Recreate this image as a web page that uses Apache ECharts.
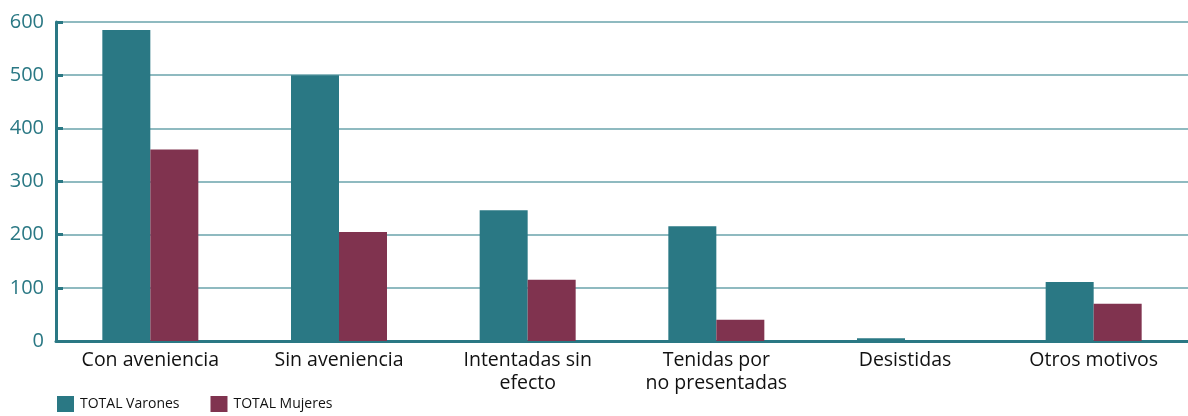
<!DOCTYPE html>
<html><head><meta charset="utf-8">
<script src="https://cdn.jsdelivr.net/npm/echarts@6/dist/echarts.min.js"></script>
<style>html,body{margin:0;padding:0;background:#fff}#c{width:1188px;height:416px}</style>
</head><body><div id="c"></div>
<script>
const categories = ["Con aveniencia", "Sin aveniencia", "Intentadas sin\nefecto", "Tenidas por\nno presentadas", "Desistidas", "Otros motivos"];
const varones = [585, 500, 246, 216, 5, 111];
const mujeres = [360, 205, 115, 40, 0, 70];
const seriesNames = ["TOTAL Varones", "TOTAL Mujeres"];
const yTicks = {min: 0, max: 600, interval: 100};

const teal = '#2a7884', maroon = '#80334f', grid = '#6aa3ab';
const font = 'Open Sans';
const chart = echarts.init(document.getElementById('c'));
chart.setOption({
  animation: false,
  textStyle: {fontFamily: font},
  grid: {left: 56, top: 22, width: 1138, height: 319, containLabel: false},
  legend: {
    left: 52, top: 391, itemWidth: 17, itemHeight: 16, itemGap: 31,
    icon: 'rect',
    textStyle: {fontFamily: font, fontSize: 14, color: '#111', padding: [0, 0, 0, 1]},
    data: seriesNames
  },
  xAxis: {
    type: 'category', data: categories,
    axisLine: {lineStyle: {color: teal, width: 3}},
    axisTick: {inside: true, length: 8, lineStyle: {color: teal, width: 3}},
    axisLabel: {fontFamily: font, fontSize: 19.5, color: '#111', lineHeight: 23, margin: 8}
  },
  yAxis: {
    type: 'value', min: yTicks.min, max: yTicks.max, interval: yTicks.interval,
    axisLine: {show: true, lineStyle: {color: teal, width: 3}},
    axisTick: {show: true, inside: true, length: 7, lineStyle: {color: teal, width: 3}},
    splitLine: {lineStyle: {color: grid, width: 1.5}},
    axisLabel: {fontFamily: font, fontSize: 20, color: teal, margin: 12}
  },
  series: [
    {name: seriesNames[0], type: 'bar', data: varones, barWidth: 48, barGap: '0%', itemStyle: {color: teal}},
    {name: seriesNames[1], type: 'bar', data: mujeres, barWidth: 48, barGap: '0%', itemStyle: {color: maroon}}
  ]
});
</script></body></html>
